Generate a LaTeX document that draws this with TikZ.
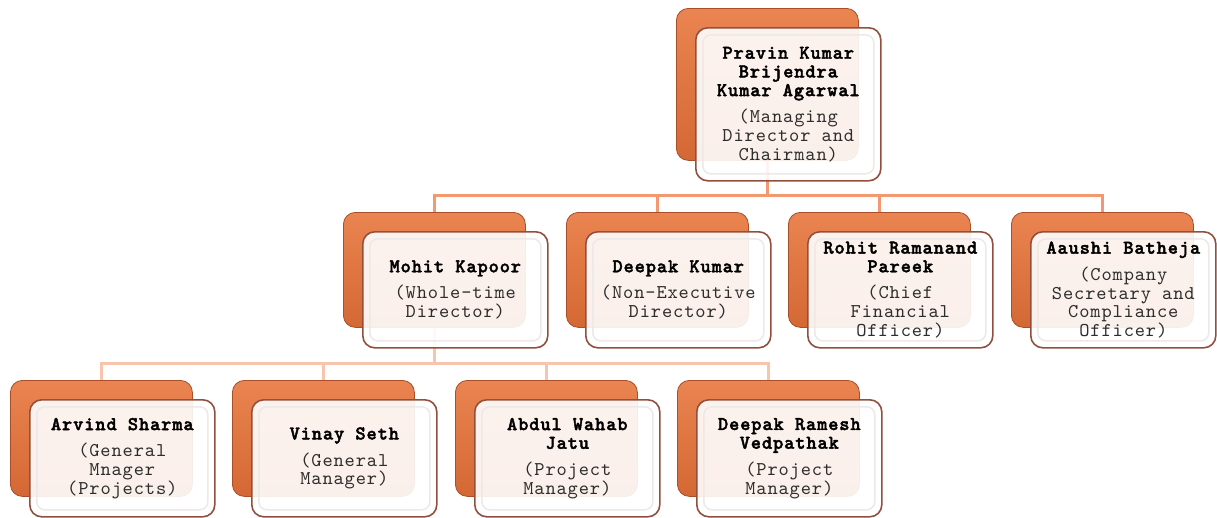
\documentclass[tikz,border=0pt]{standalone}
\usepackage{fontspec}
\newfontfamily\courfont{lmmono10-regular.otf}[BoldFont=lmmonolt10-bold.otf, BoldFeatures={FakeBold=2}, LetterSpace=4.5]
\definecolor{linea}{RGB}{244,152,112}
\definecolor{lineb}{RGB}{248,196,174}
\definecolor{backtop}{RGB}{234,132,80}
\definecolor{backbot}{RGB}{212,104,52}
\definecolor{backdraw}{RGB}{168,78,40}
\definecolor{frontdraw}{RGB}{145,80,62}
\definecolor{bevel}{RGB}{236,233,231}
\definecolor{titlecol}{RGB}{45,45,45}
\newcommand\pname[1]{\textbf{\color{black}#1}}
\tikzset{
 backbox/.style={draw=backdraw, line width=0.8pt, rounded corners=12pt, top color=backtop, bottom color=backbot, minimum width=182pt, anchor=north west, inner sep=0pt},
 frontbox/.style={draw=frontdraw, line width=1.6pt, rounded corners=12pt, fill=white, fill opacity=0.9, text opacity=1, text=titlecol, minimum width=185pt, anchor=north west, inner sep=0pt, align=center, font=\courfont\fontsize{19.5}{18.7}\selectfont,
   path picture={\draw[bevel, line width=1.5pt, rounded corners=8pt, draw opacity=1] ([shift={(7pt,-7pt)}]path picture bounding box.north west) rectangle ([shift={(-7pt,7pt)}]path picture bounding box.south east);}},
 conA/.style={draw=linea, line width=3pt},
 conB/.style={draw=lineb, line width=3pt},
}
\begin{document}
\begin{tikzpicture}[x=1pt,y=-1pt]
\useasboundingbox (0,0) rectangle (1217,517);
% back boxes
\node[backbox, minimum height=152pt] (b0) at (676,8) {};
\node[backbox, minimum height=115pt] (b1) at (343,212) {};
\node[backbox, minimum height=115pt] (b2) at (566,212) {};
\node[backbox, minimum height=115pt] (b3) at (788,212) {};
\node[backbox, minimum height=115pt] (b4) at (1011,212) {};
\node[backbox, minimum height=116pt] (c1) at (10,380) {};
\node[backbox, minimum height=116pt] (c2) at (232,380) {};
\node[backbox, minimum height=116pt] (c3) at (455,380) {};
\node[backbox, minimum height=116pt] (c4) at (677,380) {};
% connectors
\foreach \t in {b1,b2,b3,b4}{\draw[conA] (b0.south) -- ++(0,35) -| (\t.north);}
\foreach \t in {c1,c2,c3,c4}{\draw[conB] (b1.south) -- ++(0,36) -| (\t.north);}
% front boxes
\node[frontbox, minimum height=153pt] (f0) at (695,27) {\pname{Pravin Kumar}\\\pname{Brijendra}\\\pname{Kumar Agarwal}\\[8pt](Managing\\Director and\\Chairman)};
\node[frontbox, minimum height=116pt] (f1) at (362,231) {\pname{Mohit Kapoor}\\[8pt](Whole-time\\Director)};
\node[frontbox, minimum height=116pt] (f2) at (585,231) {\pname{Deepak Kumar}\\[8pt](Non-Executive\\Director)};
\node[frontbox, minimum height=116pt] (f3) at (807,231) {\pname{Rohit Ramanand}\\\pname{Pareek}\\[8pt](Chief\\Financial\\Officer)};
\node[frontbox, minimum height=116pt] (f4) at (1030,231) {\pname{Aaushi Batheja}\\[8pt](Company\\Secretary and\\Compliance\\Officer)};
\node[frontbox, minimum height=117pt] (g1) at (29,399) {\pname{Arvind Sharma}\\[8pt](General\\Mnager\\(Projects)};
\node[frontbox, minimum height=117pt] (g2) at (251,399) {\pname{Vinay Seth}\\[8pt](General\\Manager)};
\node[frontbox, minimum height=117pt] (g3) at (474,399) {\pname{Abdul Wahab}\\\pname{Jatu}\\[8pt](Project\\Manager)};
\node[frontbox, minimum height=117pt] (g4) at (696,399) {\pname{Deepak Ramesh}\\\pname{Vedpathak}\\[8pt](Project\\Manager)};
\end{tikzpicture}
\end{document}
